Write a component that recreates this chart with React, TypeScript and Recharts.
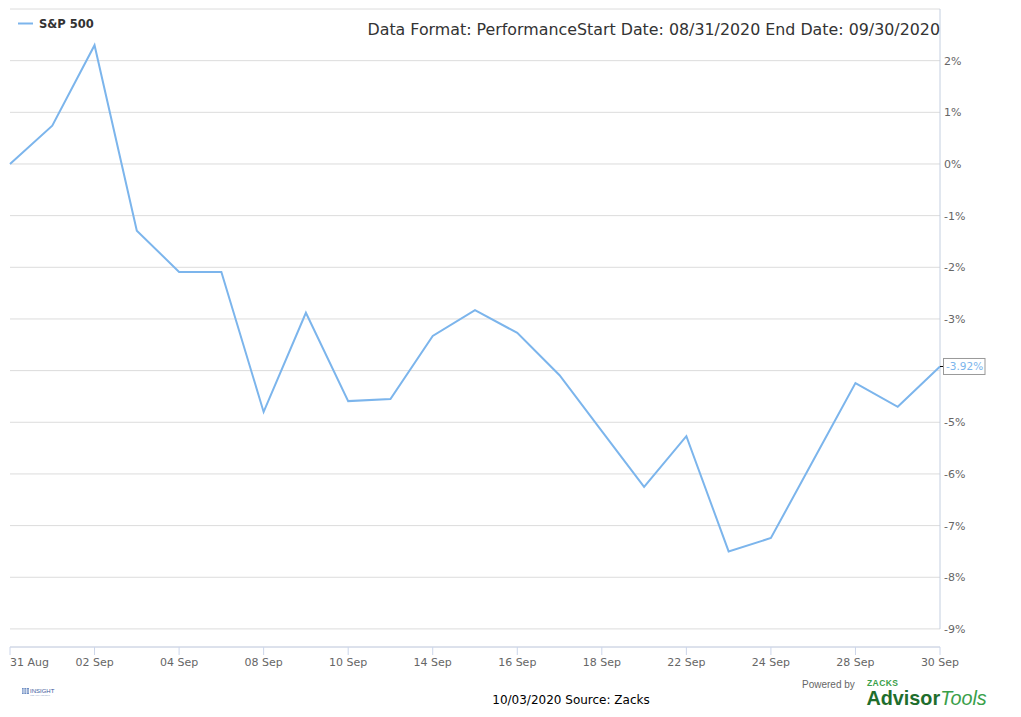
import React from "react";
import {
  LineChart,
  Line,
  XAxis,
  YAxis,
  CartesianGrid,
  ReferenceLine,
} from "recharts";

const dates = [
  "31 Aug", "01 Sep", "02 Sep", "03 Sep", "04 Sep", "07 Sep", "08 Sep", "09 Sep",
  "10 Sep", "11 Sep", "14 Sep", "15 Sep", "16 Sep", "17 Sep", "18 Sep", "21 Sep",
  "22 Sep", "23 Sep", "24 Sep", "25 Sep", "28 Sep", "29 Sep", "30 Sep",
];

const sp500 = [
  0, 0.74, 2.3, -1.29, -2.09, -2.09, -4.8, -2.88, -4.59, -4.55, -3.33, -2.83,
  -3.27, -4.09, -5.17, -6.25, -5.27, -7.5, -7.24, -5.74, -4.24, -4.7, -3.92,
];

const xTicks = [
  "31 Aug", "02 Sep", "04 Sep", "08 Sep", "10 Sep", "14 Sep", "16 Sep",
  "18 Sep", "22 Sep", "24 Sep", "28 Sep", "30 Sep",
];

const yTicks = [-9, -8, -7, -6, -5, -4, -3, -2, -1, 0, 1, 2, 3];
// tick labels hidden in the reference (top edge, and the one under the last-value box)
const hiddenYLabels = [3, -4];

const seriesName = "S&P 500";
const titleText =
  "Data Format: PerformanceStart Date: 08/31/2020 End Date: 09/30/2020";
const footerText = "10/03/2020 Source: Zacks";

const data = dates.map((d, i) => ({ date: d, value: sp500[i] }));

const FONT = "'DejaVu Sans', sans-serif";
const LINE_COLOR = "#7cb5ec";

const fmtPct = (v: number) => (v < 0 ? "-" : "") + Math.abs(v) + "%";

const YTick = (props: any) => {
  const { x, y, payload } = props;
  if (hiddenYLabels.includes(payload.value)) return <g />;
  return (
    <text
      x={x}
      y={y}
      dy="0.355em"
      textAnchor="start"
      fill="#666666"
      fontSize={11}
      fontFamily={FONT}
    >
      {fmtPct(payload.value)}
    </text>
  );
};

const XTick = (props: any) => {
  const { x, y, payload } = props;
  const first = payload.value === dates[0];
  return (
    <text
      x={x}
      y={y}
      dy="0.71em"
      textAnchor={first ? "start" : "middle"}
      fill="#666666"
      fontSize={11}
      fontFamily={FONT}
    >
      {payload.value}
    </text>
  );
};

const LastLabel = (props: any) => {
  const { x, y, index, value } = props;
  if (index !== data.length - 1) return null;
  const txt = (value < 0 ? "-" : "") + Math.abs(value).toFixed(2) + "%";
  return (
    <g>
      <line x1={x} y1={y} x2={x + 3} y2={y} stroke="#000" strokeWidth={1} />
      <rect
        x={x + 3.5}
        y={y - 8}
        width={41.5}
        height={16}
        fill="#ffffff"
        stroke="#999999"
        strokeWidth={1}
      />
      <text
        x={x + 6}
        y={y}
        dy="0.355em"
        fill={LINE_COLOR}
        fontSize={10.5}
        fontFamily={FONT}
      >
        {txt}
      </text>
    </g>
  );
};

export default function App() {
  return (
    <div
      style={{
        position: "absolute",
        left: 0,
        top: 0,
        width: 1021,
        height: 717,
        background: "#ffffff",
      }}
    >
      <LineChart
        width={1021}
        height={717}
        data={data}
        margin={{ top: 9, right: 21, bottom: 40, left: 10 }}
      >
        <CartesianGrid vertical={false} stroke="#dcdcdc" />
        <XAxis
          dataKey="date"
          type="category"
          scale="point"
          padding={{ left: 0, right: 0 }}
          ticks={xTicks}
          interval={0}
          height={30}
          axisLine={{ stroke: "#ccd6eb" }}
          tickLine={{ stroke: "#ccd6eb" }}
          tickSize={8}
          tickMargin={3}
          tick={<XTick />}
        />
        <YAxis
          orientation="right"
          type="number"
          domain={[-9.35, 3]}
          allowDataOverflow
          ticks={yTicks}
          interval={0}
          width={60}
          axisLine={false}
          tickLine={false}
          tickSize={0}
          tickMargin={4}
          tick={<YTick />}
        />
        <ReferenceLine
          segment={[
            { x: dates[dates.length - 1], y: 3 },
            { x: dates[dates.length - 1], y: -9 },
          ]}
          stroke="#c4cfe0"
          strokeWidth={1}
          ifOverflow="visible"
        />
        <Line
          type="linear"
          dataKey="value"
          name={seriesName}
          stroke={LINE_COLOR}
          strokeWidth={2}
          dot={false}
          activeDot={false}
          isAnimationActive={false}
          label={(p: any) => <LastLabel key={"lbl" + p.index} {...p} />}
        />
      </LineChart>
      <svg
        width={1021}
        height={717}
        style={{ position: "absolute", left: 0, top: 0, pointerEvents: "none" }}
      >
        {/* legend */}
        <line x1={18} y1={23.5} x2={33} y2={23.5} stroke={LINE_COLOR} strokeWidth={2} />
        <text x={39} y={28.3} fontSize={11.5} fontWeight="bold" fill="#333333" fontFamily={FONT}>
          {seriesName}
        </text>
        {/* title */}
        <text x={940} y={35} textAnchor="end" fontSize={15.85} fill="#333333" fontFamily={FONT}>
          {titleText}
        </text>
        {/* footer */}
        <text x={571} y={703.5} textAnchor="middle" fontSize={12} fill="#000000" fontFamily={FONT}>
          {footerText}
        </text>
        {/* insight logo */}
        <g>
          <rect x={22} y={688} width={7} height={6} fill="#6f8fc4" />
          <path d="M22 690 L29 690 M22 692 L29 692 M24 688 L24 694 M26.5 688 L26.5 694" stroke="#ffffff" strokeWidth={0.6} />
          <text x={30} y={693} fontSize={6} fill="#3a5a9c" fontFamily="'Liberation Sans', sans-serif">
            INSIGHT
          </text>
          <text x={30} y={696} fontSize={2.5} fill="#8fa3c8" fontFamily="'Liberation Sans', sans-serif">
            WEALTH GROUP
          </text>
        </g>
        {/* powered by */}
        <text x={802} y={687.5} fontSize={10} fill="#666666" fontFamily="'Liberation Sans', Arial, sans-serif">
          Powered by
        </text>
        <text x={867} y={686} fontSize={8.5} fontWeight="bold" letterSpacing={0.4} fill="#3aa04a" fontFamily="'Liberation Sans', Arial, sans-serif">
          ZACKS
        </text>
        <text x={866.5} y={705} fontSize={19.8} fontFamily="'Liberation Sans', Arial, sans-serif">
          <tspan fontWeight="bold" fill="#1f6e2d">Advisor</tspan>
          <tspan fontStyle="italic" fill="#3aa04a">Tools</tspan>
        </text>
      </svg>
    </div>
  );
}
